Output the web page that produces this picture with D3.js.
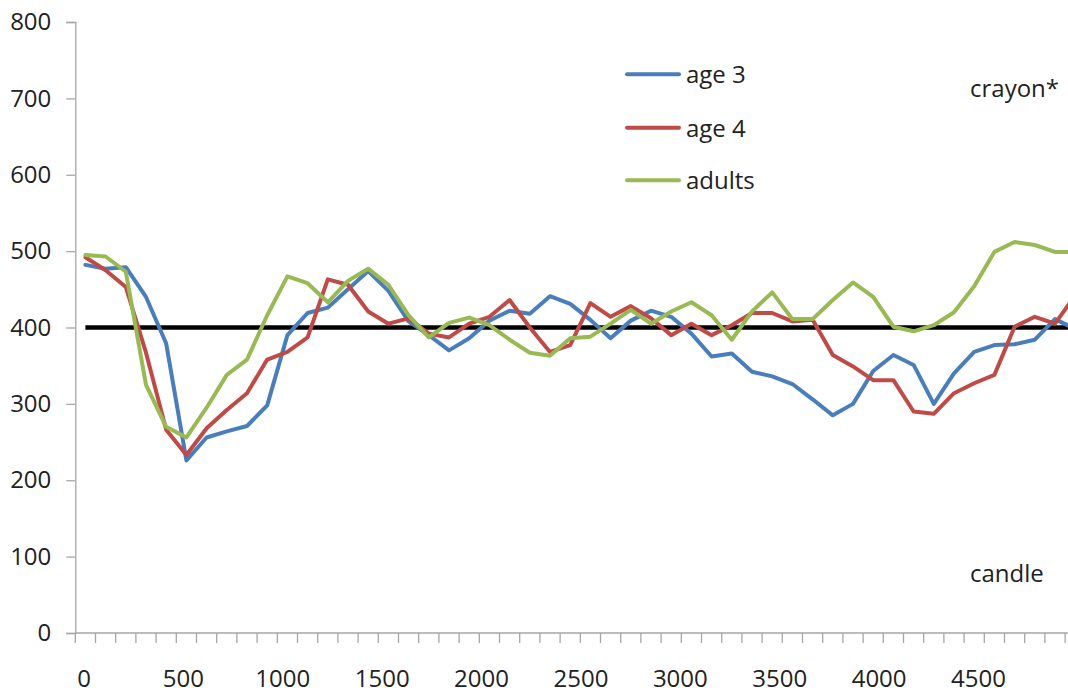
<!DOCTYPE html>
<html>
<head>
<meta charset="utf-8">
<script src="https://cdn.jsdelivr.net/npm/d3@7"></script>
<style>
  html, body { margin: 0; padding: 0; background: #fff; }
  svg { display: block; }
  text { font-family: "Open Sans", "Liberation Sans", sans-serif; fill: #222; }
</style>
</head>
<body>
<svg id="chart" width="1068" height="694"></svg>
<script>
// ---- data ----
const times = [0,100,200,300,400,500,600,700,800,900,1000,1100,1200,1300,1400,1500,1600,1700,1800,1900,
  2000,2100,2200,2300,2400,2500,2600,2700,2800,2900,3000,3100,3200,3300,3400,3500,3600,3700,3800,3900,
  4000,4100,4200,4300,4400,4500,4600,4700,4800,4900];
const age3 = [482,477,479,440,379,226,256,264,271,298,390,419,426,450,474,448,408,390,370,386,
  409,422,418,441,431,410,386,409,422,414,392,362,366,342,336,326,306,285,300,343,
  364,351,300,340,368,377,378,384,411,398];
const age4 = [492,475,453,367,266,233,268,292,314,358,368,387,463,456,421,405,412,392,387,405,
  414,436,400,368,377,432,414,428,412,390,405,390,403,419,419,408,410,364,349,331,
  331,290,287,314,327,338,401,414,405,442];
const adults = [495,493,473,325,270,256,295,338,358,416,467,458,433,461,477,456,416,387,406,413,
  403,384,367,363,386,388,405,423,405,421,433,416,384,421,446,411,411,436,459,440,
  401,395,403,420,454,499,512,508,499,499];
const seriesNames = ["age 3", "age 4", "adults"];
const seriesColors = ["#4a7ebb", "#be4b48", "#98b954"];
const refValue = 400;
const yTicks = [0,100,200,300,400,500,600,700,800];
const xLabels = [0,500,1000,1500,2000,2500,3000,3500,4000,4500];
const annotations = [{text: "crayon*", value: 700}, {text: "candle", value: 75}];

// ---- chart ----
const svg = d3.select("#chart");
const fontSize = 24;

const y = d3.scaleLinear().domain([0, 800]).range([633, 22]);
// category band (50 categories, tick at each boundary)
const band = d3.scaleBand().domain(times).range([75.3, 75.3 + 20.2 * times.length]).paddingInner(0).paddingOuter(0);
const xPos = t => band(t) + band.bandwidth() / 2;
// label positions as drawn in the original
const labelScale = d3.scaleLinear().domain([0, 4500]).range([84, 978.5]);

// y axis
const yAxis = d3.axisLeft(y).tickValues(yTicks).tickSize(9).tickPadding(15);
const gy = svg.append("g").attr("transform", "translate(75.3,0)").call(yAxis);
gy.select(".domain").attr("stroke", "#a6a6a6").attr("stroke-width", 1.3);
gy.selectAll(".tick line").attr("stroke", "#a6a6a6").attr("stroke-width", 1.3);
gy.selectAll(".tick text").attr("font-size", fontSize).attr("font-family", "Open Sans").attr("fill", "#222");

// x axis: line + ticks at category boundaries
const gx = svg.append("g");
gx.append("line").attr("x1", 75.3).attr("x2", 1068).attr("y1", y(0)).attr("y2", y(0))
  .attr("stroke", "#a6a6a6").attr("stroke-width", 1.3);
const boundaries = times.map(t => band(t)).concat([band(times[times.length-1]) + band.bandwidth()]);
gx.selectAll("line.tk").data(boundaries).join("line").attr("class", "tk")
  .attr("x1", d => d).attr("x2", d => d).attr("y1", y(0)).attr("y2", y(0) + 10)
  .attr("stroke", "#a6a6a6").attr("stroke-width", 1.3);
gx.selectAll("text.xl").data(xLabels).join("text").attr("class", "xl")
  .attr("x", d => labelScale(d)).attr("y", 687.4).attr("text-anchor", "middle")
  .attr("font-size", fontSize).text(d => d);

// reference line at 400
svg.append("line")
  .attr("x1", xPos(times[0])).attr("x2", 1068)
  .attr("y1", y(refValue)).attr("y2", y(refValue))
  .attr("stroke", "#000").attr("stroke-width", 4.5);

// series lines
const allSeries = [age3, age4, adults];
const line = d3.line().x((d, i) => xPos(times[i])).y(d => y(d));
svg.append("g").selectAll("path").data(allSeries).join("path")
  .attr("d", d => line(d))
  .attr("fill", "none")
  .attr("stroke", (d, i) => seriesColors[i])
  .attr("stroke-width", 4)
  .attr("stroke-linejoin", "round")
  .attr("stroke-linecap", "round");

// legend
const legendY = [74.3, 127.7, 180.3];
const lg = svg.append("g");
seriesNames.forEach((name, i) => {
  lg.append("line").attr("x1", 627).attr("x2", 679).attr("y1", legendY[i]).attr("y2", legendY[i])
    .attr("stroke", seriesColors[i]).attr("stroke-width", 4).attr("stroke-linecap", "round");
  lg.append("text").attr("x", 686).attr("y", legendY[i] + 9).attr("font-size", fontSize).text(name);
});

// annotations
svg.append("text").attr("x", 970).attr("y", 97).attr("font-size", fontSize).text(annotations[0].text);
svg.append("text").attr("x", 970).attr("y", 582).attr("font-size", fontSize).text(annotations[1].text);
</script>
</body>
</html>
